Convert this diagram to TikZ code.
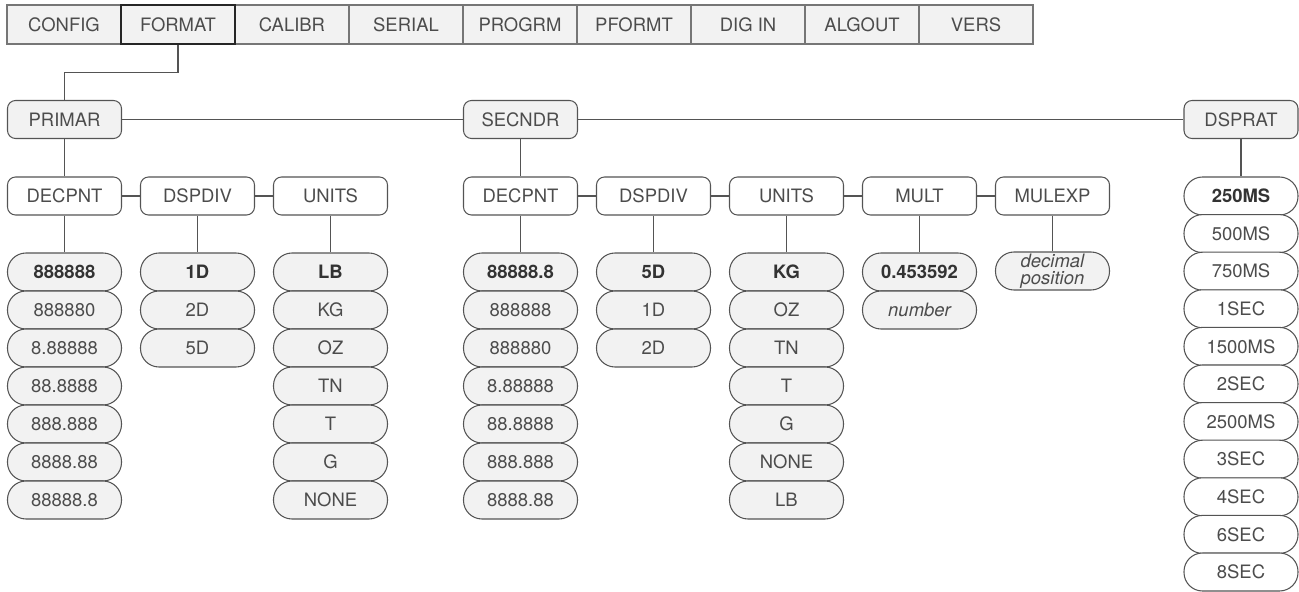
\documentclass[tikz,border=0pt]{standalone}
\usepackage{fontspec}
\setmainfont{TeX Gyre Heros}
\usepackage{tikz}
\usetikzlibrary{positioning}
\usepackage{xcolor}

\definecolor{lightfill}{gray}{0.95}
\definecolor{linegray}{gray}{0.33}

\begin{document}
\begin{tikzpicture}[
        every node/.style={font=\fontsize{10.5pt}{12pt}\selectfont,text=black!70},
        menu/.style={rectangle,draw=linegray!80,fill=lightfill,line width=0.6pt,
          minimum width=2.28cm,minimum height=0.78cm,inner sep=0pt},
        grp/.style={rectangle,rounded corners=0.16cm,draw=linegray,fill=lightfill,line width=0.6pt,
          minimum width=2.28cm,minimum height=0.76cm,inner sep=0pt},
        prm/.style={grp,fill=white},
        opt/.style={rectangle,rounded corners=0.37cm,draw=linegray,fill=lightfill,line width=0.6pt,
          minimum width=2.28cm,minimum height=0.76cm,inner sep=0pt},
        wopt/.style={opt,fill=white},
        dflt/.style={font=\fontsize{10.5pt}{12pt}\selectfont\bfseries,text=black!80},
        link/.style={linegray,line width=0.6pt},
      ]
      \useasboundingbox (0,0) rectangle (25.98,-11.84);

      % top menu
      \foreach \lab [count=\i] in {CONFIG,FORMAT,CALIBR,SERIAL,PROGRM,PFORMT,DIG IN,ALGOUT,VERS} {
        \node[menu] (m\i) at ({1.28+2.28*(\i-1)},-0.49) {\lab};
      }
      \node[menu,draw=black!85] (m2) at (3.56,-0.49) {FORMAT};

      % first level
      \node[grp] (primar) at (1.29,-2.39) {PRIMAR};
      \node[grp] (secndr) at (10.41,-2.39) {SECNDR};
      \node[grp] (dsprat) at (24.82,-2.39) {DSPRAT};
      \draw[link] (m2.south) -- ++(0,-0.56) -| (primar.north);
      \draw[link] (primar) -- (secndr);
      \draw[link] (secndr) -- (dsprat);

      % primary units
      \node[prm] (pdec) at (1.29,-3.92) {DECPNT};
      \node[prm] (pdiv) at (3.95,-3.92) {DSPDIV};
      \node[prm] (puni) at (6.61,-3.92) {UNITS};
      \draw[link] (primar) -- (pdec);
      \draw[link] (pdec) -- (pdiv);
      \draw[link] (pdiv) -- (puni);

      \node[opt,dflt] (pdec0) at (1.29,-5.44) {888888};
      \foreach \lab [count=\i] in {888880,8.88888,88.8888,888.888,8888.88,88888.8} {
        \node[opt] (pdec\i) at (1.29,{-5.44-0.76*\i}) {\lab};
      }
      \node[opt,dflt] (pdiv0) at (3.95,-5.44) {1D};
      \foreach \lab [count=\i] in {2D,5D} {
        \node[opt] (pdiv\i) at (3.95,{-5.44-0.76*\i}) {\lab};
      }
      \node[opt,dflt] (puni0) at (6.61,-5.44) {LB};
      \foreach \lab [count=\i] in {KG,OZ,TN,T,G,NONE} {
        \node[opt] (puni\i) at (6.61,{-5.44-0.76*\i}) {\lab};
      }
      \draw[link] (pdec) -- (pdec0);
      \draw[link] (pdiv) -- (pdiv0);
      \draw[link] (puni) -- (puni0);

      % secondary units
      \node[prm] (sdec) at (10.41,-3.92) {DECPNT};
      \node[prm] (sdiv) at (13.07,-3.92) {DSPDIV};
      \node[prm] (suni) at (15.73,-3.92) {UNITS};
      \node[prm] (smul) at (18.39,-3.92) {MULT};
      \node[prm] (sexp) at (21.05,-3.92) {MULEXP};
      \draw[link] (secndr) -- (sdec);
      \draw[link] (sdec) -- (sdiv);
      \draw[link] (sdiv) -- (suni);
      \draw[link] (suni) -- (smul);
      \draw[link] (smul) -- (sexp);

      \node[opt,dflt] (sdec0) at (10.41,-5.44) {88888.8};
      \foreach \lab [count=\i] in {888888,888880,8.88888,88.8888,888.888,8888.88} {
        \node[opt] (sdec\i) at (10.41,{-5.44-0.76*\i}) {\lab};
      }
      \node[opt,dflt] (sdiv0) at (13.07,-5.44) {5D};
      \foreach \lab [count=\i] in {1D,2D} {
        \node[opt] (sdiv\i) at (13.07,{-5.44-0.76*\i}) {\lab};
      }
      \node[opt,dflt] (suni0) at (15.73,-5.44) {KG};
      \foreach \lab [count=\i] in {OZ,TN,T,G,NONE,LB} {
        \node[opt] (suni\i) at (15.73,{-5.44-0.76*\i}) {\lab};
      }
      \node[opt,dflt] (smul0) at (18.39,-5.44) {0.453592};
      \node[opt,font=\fontsize{10.5pt}{12pt}\selectfont\itshape] (smul1) at (18.39,-6.20) {number};
      \node[opt,align=center,font=\fontsize{10.5pt}{9.6pt}\selectfont\itshape] (sexp0) at (21.05,-5.42) {decimal\\position};
      \draw[link] (sdec) -- (sdec0);
      \draw[link] (sdiv) -- (sdiv0);
      \draw[link] (suni) -- (suni0);
      \draw[link] (smul) -- (smul0);
      \draw[link] (sexp) -- (sexp0);

      % display rate
      \node[wopt,dflt] (rate0) at (24.82,-3.92) {250MS};
      \foreach \lab [count=\i] in {500MS,750MS,1SEC,1500MS,2SEC,2500MS,3SEC,4SEC,6SEC,8SEC} {
        \node[wopt] (rate\i) at (24.82,{-3.92-0.752*\i}) {\lab};
      }
      \draw[link] (dsprat) -- (rate0);
    \end{tikzpicture}
\end{document}
